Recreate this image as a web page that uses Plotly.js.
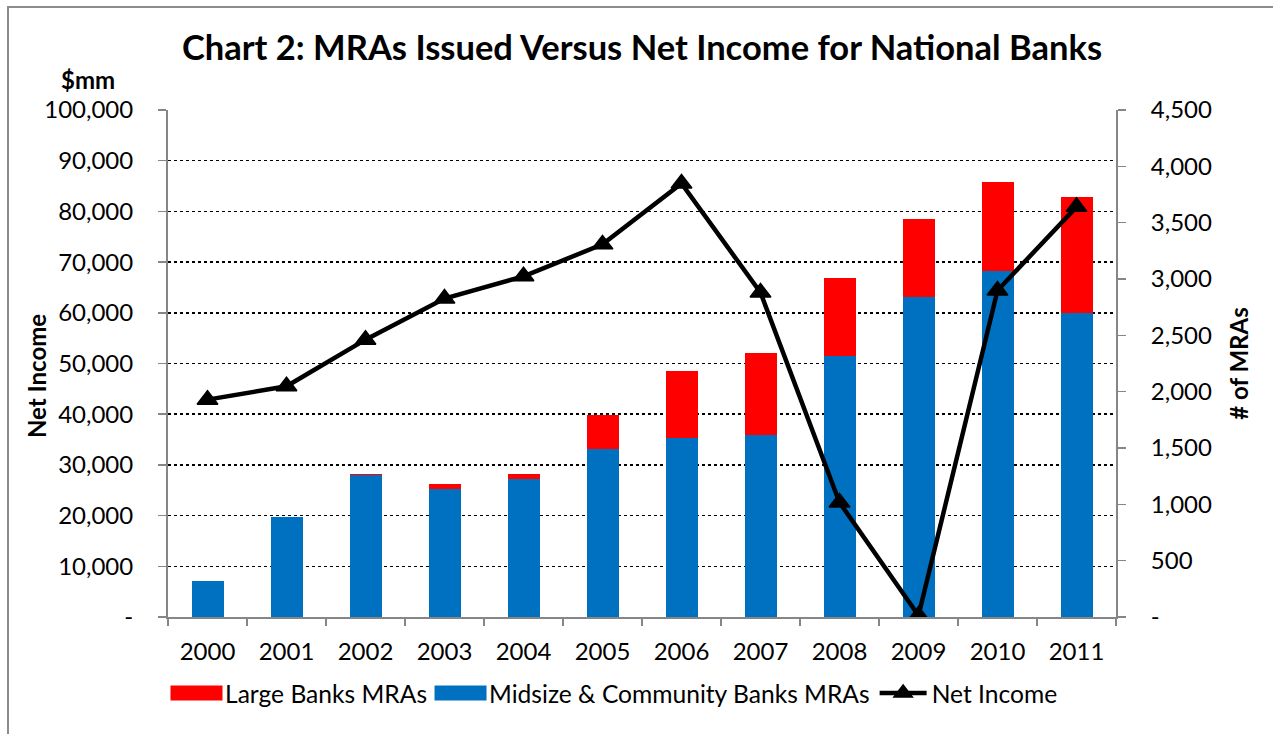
<!DOCTYPE html>
<html><head><meta charset="utf-8">
<script src="https://cdn.plot.ly/plotly-3.0.1.min.js"></script>
<style>
body{margin:0;overflow:hidden;background:#fff}
#frame{position:absolute;left:7px;top:6px;width:1400px;height:900px;border-left:2px solid #8c8c8c;border-top:2px solid #8c8c8c;pointer-events:none}
</style>
</head><body>
<div id="chart" style="width:1273px;height:734px"></div>
<div id="frame"></div>
<script>
const years = ['2000','2001','2002','2003','2004','2005','2006','2007','2008','2009','2010','2011'];
const largeBanksMRAs = [0, 0, 9, 50, 50, 307, 593, 730, 692, 698, 784, 1024];
const midsizeCommunityMRAs = [318, 888, 1256, 1132, 1221, 1488, 1590, 1613, 2320, 2839, 3074, 2700];
const netIncome = [42870, 45510, 54700, 62800, 67200, 73500, 85500, 64000, 22600, 300, 64400, 80900];
const leftTicks = [0,10000,20000,30000,40000,50000,60000,70000,80000,90000,100000];
const leftTickText = ['-','10,000','20,000','30,000','40,000','50,000','60,000','70,000','80,000','90,000','100,000'];
const rightTicks = [0,500,1000,1500,2000,2500,3000,3500,4000,4500];
const rightTickText = ['-','500','1,000','1,500','2,000','2,500','3,000','3,500','4,000','4,500'];

const FONT = 'Lato, "Open Sans", sans-serif';
const AX = '#868686';

const traces = [
  {type:'bar', name:'Midsize & Community Banks MRAs', x:years, y:midsizeCommunityMRAs, yaxis:'y',
   marker:{color:'#0070C0'}, legendrank:2},
  {type:'bar', name:'Large Banks MRAs', x:years, y:largeBanksMRAs, yaxis:'y',
   marker:{color:'#FF0000'}, legendrank:1},
  {type:'scatter', mode:'lines+markers', name:'Net Income', x:years, y:netIncome, yaxis:'y2',
   line:{color:'#000000', width:4.5}, marker:{symbol:'triangle-up', size:18, color:'#000000', line:{color:'#000', width:1.5}}, legendrank:3}
];

const layout = {
  width:1273, height:734,
  margin:{l:168, r:157, t:110, b:117},
  paper_bgcolor:'rgba(0,0,0,0)', plot_bgcolor:'rgba(0,0,0,0)',
  font:{family:FONT, color:'#000', size:24},
  barmode:'stack', bargap:0.595,
  showlegend:true,
  title:{text:'<b>Chart 2: MRAs Issued Versus Net Income for National Banks</b>', x:0.5, xref:'paper', xanchor:'center',
         y:1-48/734, yanchor:'middle', font:{family:FONT, size:34.5, color:'#000'}},
  xaxis:{type:'category', automargin:false, range:[-0.5, 11.5], tickson:'boundaries', ticks:'outside', ticklen:7, tickwidth:1.5, tickcolor:AX,
         showline:true, linecolor:AX, linewidth:2, showgrid:false, ticklabelstandoff:12, tickfont:{size:24}},
  yaxis:{side:'right', automargin:false, range:[0,4500], tickvals:rightTicks, ticktext:rightTickText, showgrid:false, zeroline:false,
         showline:true, linecolor:AX, linewidth:2, ticks:'outside', ticklen:8, tickwidth:1.5, tickcolor:AX,
         ticklabelstandoff:20, tickfont:{size:24},
         title:{text:'<b># of MRAs</b>', font:{size:24}, standoff:20}},
  yaxis2:{overlaying:'y', side:'left', automargin:false, range:[0,100000], tickvals:leftTicks, ticktext:leftTickText,
          showgrid:true, gridcolor:'#000', griddash:'dot', gridwidth:1.5, zeroline:false,
          showline:true, linecolor:AX, linewidth:2, ticks:'outside', ticklen:8, tickwidth:1.5, tickcolor:AX,
          ticklabelstandoff:20, tickfont:{size:24}},
  legend:{orientation:'h', x:0, xanchor:'left', y:-0.15, yanchor:'middle', font:{size:24.6}, traceorder:'normal', itemwidth:47},
  annotations:[
    {text:'<b>$mm</b>', xref:'paper', yref:'paper', x:(88-168)/948, y:(617-80)/507, xanchor:'center', yanchor:'middle',
     showarrow:false, font:{size:24}},
    {text:'<b>Net Income</b>', xref:'paper', yref:'paper', x:(36-168)/948, y:(617-376)/507, xanchor:'center', yanchor:'middle',
     textangle:-90, showarrow:false, font:{size:24}}
  ]
};

function widenKeys(){
  // widen the bar legend swatches to match the reference's wide keys
  document.querySelectorAll('#chart .legend path.legendbar, #chart .legend .legendpoints path').forEach(function(p){
    var cls = p.getAttribute('class') || '';
    if (cls.indexOf('legendbar') >= 0 || (p.getAttribute('d')||'').indexOf('M6,6H-6V-6H6Z') === 0) {
      p.setAttribute('d','M26,7.5H-26V-7.5H26Z');
    }
  });
}
Plotly.newPlot('chart', traces, layout, {staticPlot:true}).then(function(gd){
  widenKeys();
  setTimeout(widenKeys, 50);
  setTimeout(widenKeys, 300);
});
</script>
</body></html>
